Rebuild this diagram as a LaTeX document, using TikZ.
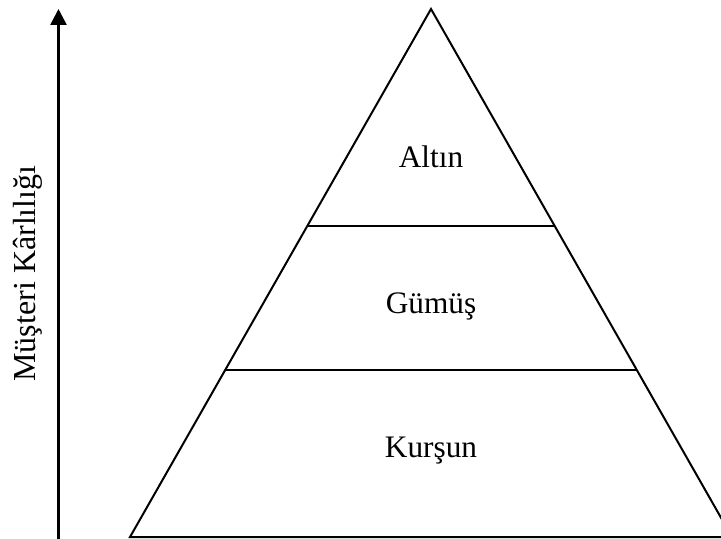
\documentclass[tikz,border=0pt]{standalone}
\usepackage{fontspec}
\setmainfont{Liberation Serif}
\usetikzlibrary{arrows.meta}
\begin{document}
\begin{tikzpicture}[x=0.5pt,y=-0.5pt,
  edge/.style={line width=1pt, line join=miter},
  axis/.style={line width=1.3pt, -{Triangle[width=8pt,length=8pt]}},
  lbl/.style={font=\fontsize{15.65}{18}\selectfont, anchor=base, inner sep=0pt},
  axislbl/.style={font=\fontsize{16}{18}\selectfont, rotate=90, anchor=base, inner sep=0pt}]
\useasboundingbox (0,0) rectangle (721,539);
\clip (0,0) rectangle (721,539);
\coordinate (apex) at (431,9);
\coordinate (bl) at (130,537);
\coordinate (br) at (732,537);
\coordinate (l1) at (307.5,226);
\coordinate (r1) at (554.5,226);
\coordinate (l2) at (225.5,370);
\coordinate (r2) at (636.5,370);
\draw[edge] (bl) -- (apex) -- (br) -- cycle;
\draw[edge] (l1) -- (r1);
\draw[edge] (l2) -- (r2);
\node[lbl] (altin) at (431,168) {Altın};
\node[lbl] (gumus) at (431,313) {Gümüş};
\node[lbl] (kursun) at (431,457) {Kurşun};
\coordinate (ab) at (58.5,545);
\coordinate (at) at (58.5,9);
\draw[axis] (ab) -- (at);
\node[axislbl] (yl) at (35,273.5) {Müşteri Kârlılığı};
\end{tikzpicture}
\end{document}
